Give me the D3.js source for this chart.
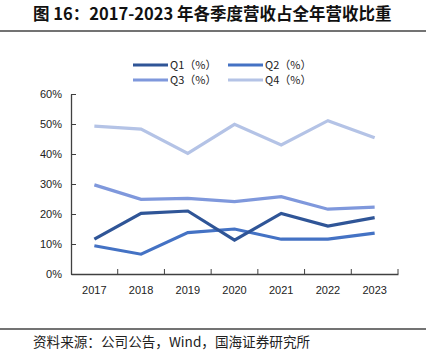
<!DOCTYPE html>
<html><head><meta charset="utf-8">
<script src="https://cdn.jsdelivr.net/npm/d3@7/dist/d3.min.js"></script>
<style>body{margin:0;background:#fff;}svg{display:block;font-family:"Liberation Sans",Arial,sans-serif;}</style>
</head><body>
<svg id="c" width="430" height="357"></svg>
<script>
const years = ["2017","2018","2019","2020","2021","2022","2023"];
const q1 = [11.6,20.2,21.0,11.3,20.2,16.0,18.8];
const q2 = [9.4,6.6,13.8,15.0,11.6,11.6,13.6];
const q3 = [29.7,24.9,25.2,24.1,25.8,21.6,22.3];
const q4 = [49.3,48.3,40.2,49.9,43.0,51.1,45.4];
const seriesNames = ["Q1（%）","Q2（%）","Q3（%）","Q4（%）"];
const yTicks = [0,10,20,30,40,50,60];

const colors = ["#2F5597","#4472C4","#7F98DC","#B4C3E6"];
const series = [q1,q2,q3,q4];
const svg = d3.select("#c");
const cjk = '"Noto Sans CJK SC","Liberation Sans",sans-serif';

svg.append("text").attr("x",33).attr("y",20).attr("font-family",cjk).attr("font-weight","bold")
  .attr("font-size",16.5).attr("fill","#111").text("图 16：2017-2023 年各季度营收占全年营收比重");
svg.append("line").attr("x1",0).attr("x2",426).attr("y1",31).attr("y2",31).attr("stroke","#444").attr("stroke-width",1.3);

const x = d3.scaleBand().domain(years).range([71,398]);
const y = d3.scaleLinear().domain([0,60]).range([274,94]);

const yAxis = d3.axisLeft(y).tickValues(yTicks).tickFormat(d=>d+"%").tickSizeInner(-5).tickSizeOuter(0).tickPadding(9);
const gy = svg.append("g").attr("transform","translate(71,0)").call(yAxis);
const xAxis = d3.axisBottom(x).tickSizeInner(0).tickSizeOuter(0).tickPadding(12);
const gx = svg.append("g").attr("transform","translate(0,274)").call(xAxis);
const bounds = years.map(d=>x(d)+x.bandwidth());
gx.selectAll("line.b").data(bounds).enter().append("line").attr("class","b")
  .attr("x1",d=>d).attr("x2",d=>d).attr("y1",0).attr("y2",-5).attr("stroke","#404040");
[gx,gy].forEach(g=>{
  g.select(".domain").attr("stroke","#404040").attr("stroke-width",1.3);
  g.selectAll(".tick line").attr("stroke","#404040");
  g.selectAll("text").attr("font-size",11).attr("fill","#222").attr("font-family",'"Liberation Sans",Arial,sans-serif');
});

const line = d3.line().x((d,i)=>x(years[i])+x.bandwidth()/2).y(d=>y(d));
[3,2,1,0].forEach(k=>{
  svg.append("path").datum(series[k]).attr("d",line).attr("fill","none")
    .attr("stroke",colors[k]).attr("stroke-width",3.2).attr("stroke-linejoin","miter");
});

const legPos = [[133,65],[228,65],[133,80],[228,80]];
seriesNames.forEach((n,k)=>{
  const [lx,ly]=legPos[k];
  svg.append("line").attr("x1",lx).attr("x2",lx+35).attr("y1",ly).attr("y2",ly)
    .attr("stroke",colors[k]).attr("stroke-width",3.2);
  svg.append("text").attr("x",lx+37).attr("y",ly+4).attr("font-size",11).attr("font-family",cjk)
    .attr("fill","#222").text(n);
});

svg.append("line").attr("x1",0).attr("x2",426).attr("y1",329).attr("y2",329).attr("stroke","#444").attr("stroke-width",1.3);
svg.append("text").attr("x",33).attr("y",347).attr("font-size",13.6).attr("font-family",cjk)
  .attr("fill","#222").text("资料来源：公司公告，Wind，国海证券研究所");
</script>
</body></html>
